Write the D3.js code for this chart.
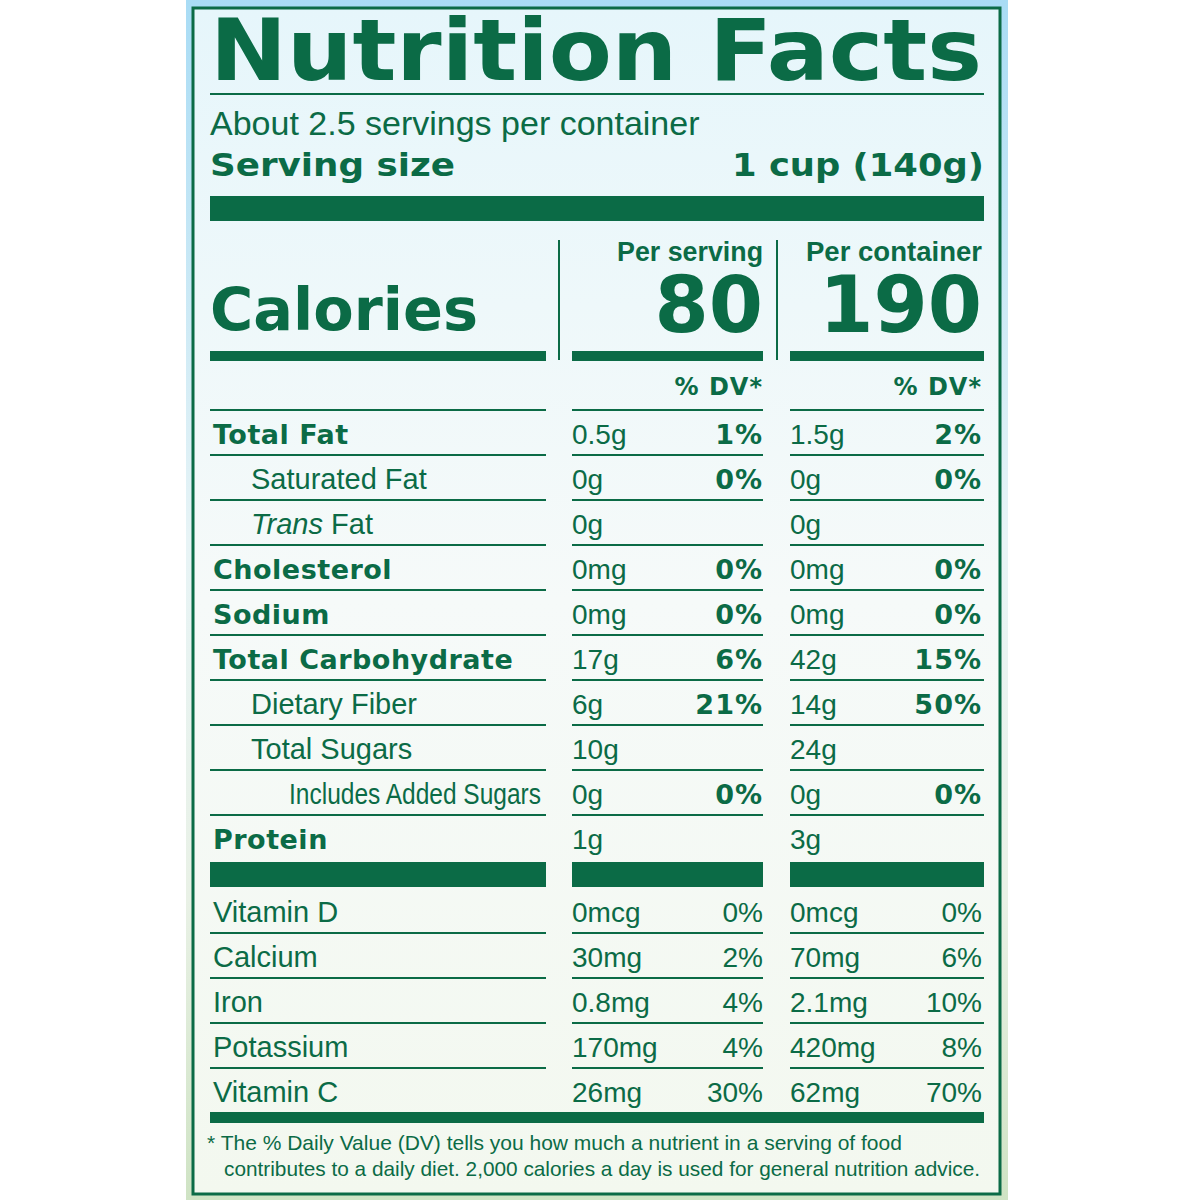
<!DOCTYPE html>
<html><head><meta charset="utf-8">
<script src="https://cdn.jsdelivr.net/npm/d3@7"></script>
<style>body{margin:0}svg{display:block}</style>
</head><body><svg id="c" width="1200" height="1200"></svg>
<script>
// nutrients: name, indent level, bold, serving amount, serving %DV, container amount, container %DV
const nutrients = ["Total Fat","Saturated Fat","Trans Fat","Cholesterol","Sodium","Total Carbohydrate","Dietary Fiber","Total Sugars","Includes Added Sugars","Protein"];
const indent = [0,1,1,0,0,0,1,1,2,0];
const bold = [1,0,0,1,1,1,0,0,0,1];
const servAmt = ["0.5g","0g","0g","0mg","0mg","17g","6g","10g","0g","1g"];
const servDV = ["1%","0%","","0%","0%","6%","21%","","0%",""];
const contAmt = ["1.5g","0g","0g","0mg","0mg","42g","14g","24g","0g","3g"];
const contDV = ["2%","0%","","0%","0%","15%","50%","","0%",""];
const vitamins = ["Vitamin D","Calcium","Iron","Potassium","Vitamin C"];
const vServAmt = ["0mcg","30mg","0.8mg","170mg","26mg"];
const vServDV = ["0%","2%","4%","4%","30%"];
const vContAmt = ["0mcg","70mg","2.1mg","420mg","62mg"];
const vContDV = ["0%","6%","10%","8%","70%"];

const G = "#0b6b46";
const HEAVY = "'DejaVu Sans', sans-serif";
const svg = d3.select("#c");
const defs = svg.append("defs");
const bg = defs.append("linearGradient").attr("id","bg").attr("x1",0).attr("y1",0).attr("x2",0).attr("y2",1);
bg.append("stop").attr("offset","0").attr("stop-color","#a9dcf5");
bg.append("stop").attr("offset","0.45").attr("stop-color","#e8f4f6");
bg.append("stop").attr("offset","0.75").attr("stop-color","#e9f1e6");
bg.append("stop").attr("offset","1").attr("stop-color","#cfe3c4");
svg.append("rect").attr("width",1200).attr("height",1200).attr("fill","#fff");
svg.append("rect").attr("x",186).attr("y",0).attr("width",822).attr("height",1200).attr("fill","url(#bg)");
const inner = defs.append("linearGradient").attr("id","in").attr("x1",0).attr("y1",0).attr("x2",0).attr("y2",1);
inner.append("stop").attr("offset","0").attr("stop-color","#e6f6fb");
inner.append("stop").attr("offset","0.5").attr("stop-color","#f6faf9");
inner.append("stop").attr("offset","1").attr("stop-color","#f3f8ef");
svg.append("rect").attr("x",193).attr("y",8).attr("width",807).attr("height",1186).attr("fill","url(#in)").attr("stroke",G).attr("stroke-width",3);

const L = 210, R = 984, c1a = 572, c1b = 763, c2a = 790, c2b = 984, labR = 546;
const t = (x,y,s,size,wt,anchor) => svg.append("text").attr("x",x).attr("y",y).text(s)
  .style("font-family","'Liberation Sans', Arial, sans-serif")
  .attr("font-size",size).attr("font-weight",wt||"normal").attr("text-anchor",anchor||"start").attr("fill",G);
const h = (sel) => sel.style("font-family",HEAVY);
const bar = (x1,x2,y,hh) => svg.append("rect").attr("x",x1).attr("y",y).attr("width",x2-x1).attr("height",hh).attr("fill",G);

h(t(L,80,"Nutrition Facts",86,"bold")).attr("textLength",R-L-2).attr("lengthAdjust","spacingAndGlyphs");
bar(L,R,93,2);
t(L,135,"About 2.5 servings per container",34);
h(t(L,176,"Serving size",32,"bold")).attr("textLength",245).attr("lengthAdjust","spacingAndGlyphs");
h(t(R,176,"1 cup (140g)",32,"bold","end")).attr("textLength",252).attr("lengthAdjust","spacingAndGlyphs");
bar(L,R,196,25);

svg.append("line").attr("x1",559).attr("x2",559).attr("y1",240).attr("y2",360).attr("stroke",G).attr("stroke-width",2);
svg.append("line").attr("x1",777).attr("x2",777).attr("y1",240).attr("y2",360).attr("stroke",G).attr("stroke-width",2);
t(c1b,261,"Per serving",27,"bold","end").attr("textLength",146).attr("lengthAdjust","spacingAndGlyphs");
t(c2b-2,261,"Per container",27,"bold","end").attr("textLength",176).attr("lengthAdjust","spacingAndGlyphs");
h(t(L,330,"Calories",58,"bold")).attr("textLength",268).attr("lengthAdjust","spacingAndGlyphs");
h(t(c1b,332,"80",78,"bold","end"));
h(t(c2b-2,332,"190",78,"bold","end"));
bar(L,labR,351,10); bar(c1a,c1b,351,10); bar(c2a,c2b,351,10);
h(t(c1b,395,"% DV*",24,"bold","end")).attr("letter-spacing",1);
h(t(c2b-2,395,"% DV*",24,"bold","end")).attr("letter-spacing",1);

const y = d3.scaleBand().domain(nutrients).range([410,860]);
const hl = (yy) => { bar(L,labR,yy-1,2); bar(c1a,c1b,yy-1,2); bar(c2a,c2b,yy-1,2); };
hl(410);
nutrients.forEach((n,i) => {
  const yc = y(n) + y.bandwidth()/2 + 11;
  const x = L + 3 + indent[i]*38;
  let lbl;
  if (n === "Trans Fat") {
    lbl = t(x,yc,"",29);
    lbl.append("tspan").attr("font-style","italic").text("Trans");
    lbl.append("tspan").text(" Fat");
  } else if (bold[i]) {
    lbl = h(t(x,yc,n,27,"bold")).attr("letter-spacing",0.5);
  } else lbl = t(x,yc,n,29);
  if (n === "Includes Added Sugars") lbl.attr("textLength",252).attr("lengthAdjust","spacingAndGlyphs");
  t(c1a,yc,servAmt[i],28);
  h(t(c1b,yc,servDV[i],27,"bold","end")).attr("letter-spacing",1);
  t(c2a,yc,contAmt[i],28);
  h(t(c2b-2,yc,contDV[i],27,"bold","end")).attr("letter-spacing",1);
  if (i < nutrients.length-1) hl(y(n)+y.bandwidth());
});
bar(L,labR,862,25); bar(c1a,c1b,862,25); bar(c2a,c2b,862,25);

const yv = d3.scaleBand().domain(vitamins).range([888,1113]);
vitamins.forEach((v,i) => {
  const yc = yv(v) + yv.bandwidth()/2 + 11;
  t(L+3,yc,v,29);
  t(c1a,yc,vServAmt[i],28);
  t(c1b,yc,vServDV[i],28,"normal","end");
  t(c2a,yc,vContAmt[i],28);
  t(c2b-2,yc,vContDV[i],28,"normal","end");
  if (i < vitamins.length-1) hl(yv(v)+yv.bandwidth());
});
bar(L,R,1112,11);
t(207,1150,"* The % Daily Value (DV) tells you how much a nutrient in a serving of food",21);
t(224,1176,"contributes to a daily diet. 2,000 calories a day is used for general nutrition advice.",21).attr("textLength",756).attr("lengthAdjust","spacingAndGlyphs");
</script></body></html>
